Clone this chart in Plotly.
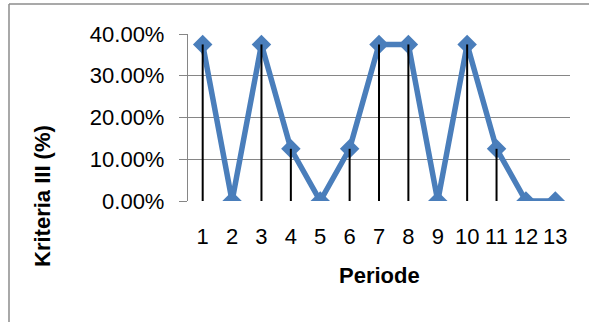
import plotly.graph_objects as go

# Period numbers and the Kriteria III share for each period
periods = [1, 2, 3, 4, 5, 6, 7, 8, 9, 10, 11, 12, 13]
kriteria_iii = [0.375, 0.0, 0.375, 0.125, 0.0, 0.125, 0.375, 0.375, 0.0, 0.375, 0.125, 0.0, 0.0]
y_ticks = [0.0, 0.1, 0.2, 0.3, 0.4]
y_tick_labels = ["0.00%", "10.00%", "20.00%", "30.00%", "40.00%"]

FONT = "Liberation Sans"
BLUE = "#4a7ebb"
GRID = "#868686"

# vertical drop lines from each point down to the category axis
drop_x, drop_y = [], []
for p, v in zip(periods, kriteria_iii):
    drop_x += [p, p, None]
    drop_y += [0.0, v, None]

fig = go.Figure()
fig.add_trace(go.Scatter(
    x=periods, y=kriteria_iii, mode="lines+markers",
    line=dict(color=BLUE, width=5.5),
    marker=dict(symbol="diamond", size=15, color=BLUE),
    showlegend=False, hoverinfo="skip",
))
fig.add_trace(go.Scatter(
    x=drop_x, y=drop_y, mode="lines",
    line=dict(color="black", width=2),
    showlegend=False, hoverinfo="skip",
))

fig.update_layout(
    width=589, height=322,
    margin=dict(l=188, r=19, t=34, b=121),
    paper_bgcolor="white", plot_bgcolor="white",
    font=dict(family=FONT, size=22, color="black"),
    xaxis=dict(
        range=[0.5, 13.5], tickmode="array", tickvals=periods,
        ticktext=[str(p) for p in periods],
        showgrid=False, zeroline=False, showline=False,
        ticks="", ticklabelstandoff=20,
        tickfont=dict(family=FONT, size=22),
    ),
    yaxis=dict(
        range=[0, 0.4], tickmode="array", tickvals=y_ticks, ticktext=y_tick_labels,
        showgrid=True, gridcolor=GRID, gridwidth=1.3,
        zeroline=False, showline=True, linecolor=GRID, linewidth=1.3,
        ticks="outside", ticklen=8, tickcolor=GRID, tickwidth=1.3,
        ticklabelstandoff=10,
        tickfont=dict(family=FONT, size=22),
    ),
    annotations=[
        dict(text="<b>Periode</b>", xref="paper", yref="paper",
             x=0.5, y=-0.449, xanchor="center", yanchor="middle",
             showarrow=False, font=dict(family=FONT, size=22)),
        dict(text="<b>Kriteria III (%)</b>", xref="paper", yref="paper",
             x=-0.3796, y=0.03, xanchor="center", yanchor="middle",
             textangle=-90, showarrow=False, font=dict(family=FONT, size=22)),
    ],
    shapes=[
        # chart frame (left and top edges)
        dict(type="line", xref="paper", yref="paper",
             x0=-0.4686, x1=1.1, y0=1.1796, y1=1.1796,
             line=dict(color="#8c8c8c", width=1.5)),
        dict(type="line", xref="paper", yref="paper",
             x0=-0.4686, x1=-0.4686, y0=1.1796, y1=-0.75,
             line=dict(color="#8c8c8c", width=1.5)),
    ],
)

fig.write_html("out.html")
